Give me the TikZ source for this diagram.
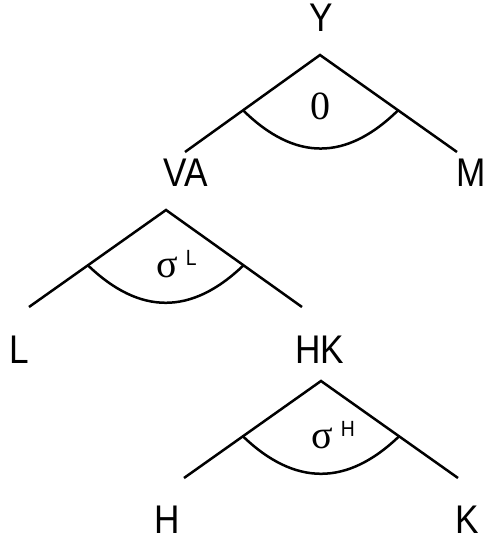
\documentclass[tikz,border=0pt]{standalone}
\usepackage{fontspec}
\setmainfont{Liberation Sans}
\newfontfamily\serifgr{Liberation Serif}
\usetikzlibrary{calc}
\tikzset{
  branch/.style={line width=2.5pt, line join=miter},
  arcline/.style={line width=2.5pt},
  lbl/.style={font=\fontsize{40}{40}\selectfont, anchor=base, inner sep=0pt},
  param/.style={font=\fontsize{40}{40}\selectfont\serifgr, anchor=base west, inner sep=0pt},
  paramc/.style={font=\fontsize{40}{40}\selectfont\serifgr, anchor=base, inner sep=0pt},
}
\newcommand{\nrw}[1]{\scalebox{0.88}[1]{#1}}
\newcommand{\supsc}[1]{\hspace{8pt}\raisebox{12pt}{\fontsize{22}{22}\selectfont\rmfamily\nrw{#1}}}
\begin{document}
\begin{tikzpicture}[x=1pt,y=-1pt]
\useasboundingbox (0,0) rectangle (485,545);
% top tree
\coordinate (t0) at (320,55);
\coordinate (tl) at (185,152);
\coordinate (tr) at (457,152);
\draw[branch] (tl) -- (t0) -- (tr);
\coordinate (ta) at ($(t0)!0.57!(tl)$);
\coordinate (tb) at ($(t0)!0.57!(tr)$);
\draw[arcline] (ta) .. controls +(52,51) and +(-52,51) .. (tb);
\node[lbl] (Y) at (321,32) {\nrw{Y}};
\node[paramc] (zero) at (320,120) {0};
\node[lbl] (VA) at (186,187) {\nrw{VA}};
\node[lbl] (M) at (471,187) {\nrw{M}};
% middle tree
\coordinate (m0) at (166,210);
\coordinate (ml) at (29,307);
\coordinate (mr) at (302,307);
\draw[branch] (ml) -- (m0) -- (mr);
\coordinate (ma) at ($(m0)!0.57!(ml)$);
\coordinate (mb) at ($(m0)!0.57!(mr)$);
\draw[arcline] (ma) .. controls +(52,50) and +(-52,50) .. (mb);
\node[param] (sigL) at (156,277) {σ\supsc{L}};
\node[lbl] (L) at (19.5,363) {\nrw{L}};
\node[lbl] (HK) at (320,363) {\nrw{HK}};
% bottom tree
\coordinate (b0) at (321,381);
\coordinate (bl) at (184,478);
\coordinate (br) at (458,478);
\draw[branch] (bl) -- (b0) -- (br);
\coordinate (ba) at ($(b0)!0.57!(bl)$);
\coordinate (bb) at ($(b0)!0.57!(br)$);
\draw[arcline] (ba) .. controls +(52,50) and +(-52,50) .. (bb);
\node[param] (sigH) at (311,448) {σ\supsc{H}};
\node[lbl] (H) at (167,533) {\nrw{H}};
\node[lbl] (K) at (467,533) {\nrw{K}};
\end{tikzpicture}
\end{document}
